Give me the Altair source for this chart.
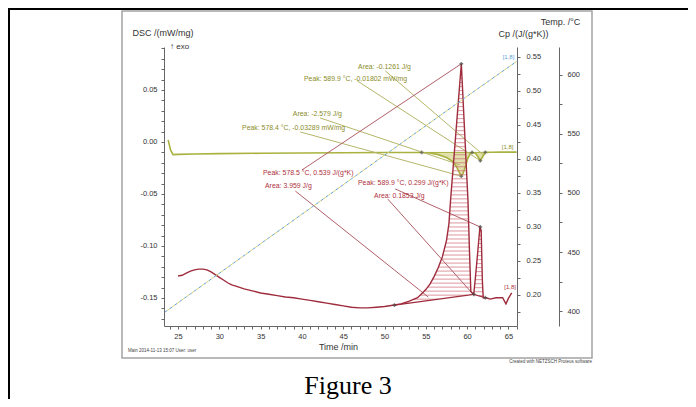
import altair as alt
import numpy as np
import pandas as pd

# ---------------- values ----------------
# DSC curve (mW/mg) vs time (min)
dsc_time = [23.8, 24.1, 24.4, 25.0, 27.0, 30.0, 35.0, 40.0, 45.0, 50.0, 54.5, 55.5, 56.5,
            57.5, 58.2, 58.7, 59.0, 59.3, 59.5, 59.8, 60.1, 60.4, 60.6, 61.0, 61.3, 61.6,
            61.9, 62.2, 63.0, 64.0, 65.0, 66.0]
dsc_value = [0.002, -0.008, -0.0122, -0.0120, -0.0116, -0.0112, -0.0109, -0.0106, -0.0104,
             -0.0102, -0.0101, -0.0107, -0.0122, -0.0150, -0.0185, -0.0235, -0.0285, -0.0329,
             -0.0305, -0.0235, -0.0155, -0.0112, -0.0101, -0.0108, -0.0140, -0.0180, -0.0140,
             -0.0100, -0.0099, -0.0098, -0.0098, -0.0098]

# Cp curve (J/(g*K)) vs time (min)
cp_time = [25.0, 25.5, 26.0, 26.5, 27.0, 27.5, 28.0, 28.5, 29.0, 29.5, 30.0, 30.5, 31.0, 31.5,
           32.0, 33.0, 34.0, 35.0, 36.0, 37.0, 38.0, 39.0, 40.0, 41.0, 42.0, 43.0, 44.0, 45.0,
           46.0, 47.0, 48.0, 49.0, 50.0, 51.0, 52.0, 53.0, 54.0, 54.5, 55.0, 55.5, 56.0, 56.5,
           57.0, 57.5, 57.8, 58.0, 58.65, 59.3, 59.7, 60.1, 60.3, 60.45,
           60.8, 61.0, 61.3, 61.55, 61.7, 61.85, 61.95, 62.3, 62.8, 63.5, 64.3, 64.7, 65.0, 65.4]
cp_value = [0.228, 0.229, 0.232, 0.235, 0.237, 0.238, 0.238, 0.237, 0.234, 0.230, 0.226, 0.222,
            0.218, 0.215, 0.213, 0.209, 0.206, 0.203, 0.201, 0.199, 0.197, 0.196, 0.194, 0.192,
            0.190, 0.188, 0.186, 0.184, 0.182, 0.181, 0.181, 0.182, 0.183, 0.185, 0.187, 0.191,
            0.196, 0.202, 0.208, 0.216, 0.227, 0.240, 0.256, 0.280, 0.305, 0.340, 0.440, 0.540,
            0.440, 0.340, 0.260, 0.205, 0.201, 0.225, 0.265, 0.300,
            0.295, 0.220, 0.196, 0.196, 0.194, 0.196, 0.196, 0.187, 0.195, 0.203]

# Temperature program (deg C) vs time (min)
temp_time = [23.4, 30.0, 40.0, 50.0, 60.0, 66.1]
temp_value = [399, 432, 482, 532, 582, 612]

# DSC annotations (olive)
olive_labels = ["Area: -0.1261 J/g", "Peak: 589.9 °C, -0.01802 mW/mg",
                "Area: -2.579 J/g", "Peak: 578.4 °C, -0.03289 mW/mg"]
olive_label_t = [46.8, 40.25, 38.9, 32.75]
olive_label_v = [0.0721, 0.0606, 0.0269, 0.0135]
olive_lead_t1 = [50.1, 46.7, 42.2, 39.8]
olive_lead_v1 = [0.0683, 0.0587, 0.0231, 0.0096]
olive_lead_t2 = [61.9, 61.6, 59.1, 59.3]
olive_lead_v2 = [-0.0120, -0.018, -0.022, -0.0329]
dsc_mark_t = [54.5, 59.3, 60.6, 61.6, 62.2]
dsc_mark_v = [-0.0101, -0.0329, -0.0101, -0.018, -0.0100]
dsc_base_t = [[54.5, 60.6], [60.6, 62.2]]
dsc_base_v = [[-0.0101, -0.0101], [-0.0101, -0.0100]]

# Cp annotations (red)
red_labels = ["Peak: 578.5 °C, 0.539 J/(g*K)", "Area: 3.959 J/g",
              "Peak: 589.9 °C, 0.299 J/(g*K)", "Area: 0.1853 J/g"]
red_label_t = [35.29, 35.53, 46.79, 48.73]
red_label_v = [0.3794, 0.3603, 0.3647, 0.3456]
red_lead_t1 = [40.0, 39.2, 51.3, 50.4]
red_lead_v1 = [0.3838, 0.3529, 0.3559, 0.341]
red_lead_t2 = [59.3, 55.3, 61.6, 60.7]
red_lead_v2 = [0.540, 0.197, 0.300, 0.2015]
cp_mark_t = [51.2, 59.3, 60.8, 61.6, 62.2]
cp_mark_v = [0.185, 0.540, 0.201, 0.300, 0.196]
cp_base_t = [[51.2, 60.8], [60.8, 62.2]]
cp_base_v = [[0.185, 0.201], [0.201, 0.196]]

seg_tag = "[1,8]"
tag_t = [64.3, 64.2, 64.5]       # temp, dsc, cp
tag_v = [615.0, -0.0048, 0.2118]

# ---------------- styling ----------------
FONT = "Liberation Sans"
ANN = 6.9
OLIVE_LINE = "#a9b23e"
OLIVE_TEXT = "#8a8c28"
OLIVE_LEAD = "#b5b66a"
RED_LINE = "#9f2c3c"
RED_TEXT = "#ae2f3d"
RED_LEAD = "#b0606a"
HATCH = "#cf6a74"
BLUE = "#5d9fd6"
AX = "#666666"
TXT = "#333333"

X = alt.X("t:Q", scale=alt.Scale(domain=[23.3, 66.04], nice=False, zero=False),
          axis=alt.Axis(values=list(range(24, 67)),
                        labelExpr="datum.value % 5 == 0 ? datum.value : ''",
                        labelOverlap=False, labelFlush=False, tickSize=3, labelPadding=3,
                        title="Time /min", titleX=174, titleY=20, titleAlign="center",
                        titleBaseline="middle", titleAngle=0))
X2 = alt.X2("t2")
Y2 = alt.Y2("v2")

dsc_vals = [round(-0.17 + 0.01 * i, 2) for i in range(27)]
Y_dsc = alt.Y("v:Q", scale=alt.Scale(domain=[-0.177, 0.0913], nice=False, zero=False),
              axis=alt.Axis(orient="left", values=dsc_vals,
                            labelExpr="abs(round(datum.value*100)) % 5 == 0 ? replace(format(datum.value, '.2f'), '\u2212', '-') : ''",
                            labelOverlap=False, labelFlush=False, tickSize=3, labelPadding=4,
                            title="DSC /(mW/mg)", titleAngle=0, titleAlign="left",
                            titleBaseline="middle", titleX=-32, titleY=-15))

cp_vals = [round(0.175 + 0.025 * i, 3) for i in range(16)]
Y_cp = alt.Y("v:Q", scale=alt.Scale(domain=[0.1544, 0.5647], nice=False, zero=False),
             axis=alt.Axis(orient="right", values=cp_vals,
                           labelExpr="round(datum.value*1000) % 50 == 0 ? format(datum.value, '.2f') : ''",
                           labelOverlap=False, labelFlush=False, tickSize=3, labelPadding=6,
                           title="Cp /(J/(g*K))", titleAngle=0, titleAlign="center",
                           titleBaseline="middle", titleX=6, titleY=-14))

temp_vals = list(range(400, 601, 25))
Y_temp = alt.Y("v:Q", scale=alt.Scale(domain=[387.3, 623.7], nice=False, zero=False),
               axis=alt.Axis(orient="right", offset=42, values=temp_vals,
                             labelExpr="datum.value % 50 == 0 ? datum.value : ''",
                             labelOverlap=False, labelFlush=False, tickSize=3, labelPadding=5,
                             title="Temp. /°C", titleAngle=0, titleAlign="center",
                             titleBaseline="middle", titleX=1, titleY=-26))


def hatch_rows(ts, vs, t0, b0, t1, b1, step):
    grid = np.linspace(t0, t1, 3000)
    curve = np.interp(grid, ts, vs)
    base = b0 + (grid - t0) * (b1 - b0) / (t1 - t0)
    rows = []
    c = min(b0, b1) + step * 0.5
    while c < curve.max():
        mask = (curve >= c) & (base <= c)
        if mask.any():
            idx = np.where(mask)[0]
            splits = np.where(np.diff(idx) > 1)[0]
            starts = np.concatenate([[idx[0]], idx[splits + 1]])
            ends = np.concatenate([idx[splits], [idx[-1]]])
            for s, e in zip(starts, ends):
                rows.append({"t": grid[s], "t2": grid[e], "v": c})
        c += step
    return rows


one = pd.DataFrame({"a": [0]})


def deco_text(txt, x, y, **kw):
    return alt.Chart(one).mark_text(text=txt, **kw).encode(x=alt.value(x), y=alt.value(y))


# ---------------- DSC group ----------------
dsc_df = pd.DataFrame({"t": dsc_time, "v": dsc_value})
fill_rows = []
for k, (tb, vb) in enumerate(zip(dsc_base_t, dsc_base_v)):
    for t, v in zip(dsc_time, dsc_value):
        if tb[0] <= t <= tb[1]:
            b = vb[0] + (t - tb[0]) * (vb[1] - vb[0]) / (tb[1] - tb[0])
            fill_rows.append({"t": t, "v": v, "v2": b, "seg": k})
fill_df = pd.DataFrame(fill_rows)
olive_lbl_df = pd.DataFrame({"t": olive_label_t, "v": olive_label_v, "label": olive_labels})
olive_lead_df = pd.DataFrame({"t": olive_lead_t1, "v": olive_lead_v1,
                              "t2": olive_lead_t2, "v2": olive_lead_v2})
dsc_mark_df = pd.DataFrame({"t": dsc_mark_t, "v": dsc_mark_v})
dsc_base_df = pd.DataFrame({"t": [a[0] for a in dsc_base_t], "t2": [a[1] for a in dsc_base_t],
                            "v": [a[0] for a in dsc_base_v], "v2": [a[1] for a in dsc_base_v]})
dsc_tag_df = pd.DataFrame({"t": [tag_t[1]], "v": [tag_v[1]], "label": [seg_tag]})

frame = alt.Chart(one).mark_rect(fillOpacity=0, stroke="#a3a3a3", strokeWidth=1.5).encode(
    x=alt.value(-42), x2=alt.value(428), y=alt.value(-36), y2=alt.value(311))
top_line = alt.Chart(one).mark_rule(color="black", strokeWidth=2).encode(
    x=alt.value(-156), x2=alt.value(524), y=alt.value(-38))
left_line = alt.Chart(one).mark_rule(color="black", strokeWidth=2).encode(
    x=alt.value(-155), y=alt.value(-39), y2=alt.value(352))

dsc_group = alt.layer(
    frame, top_line, left_line,
    alt.Chart(fill_df).mark_area(color="#c9c76a", opacity=0.55).encode(
        x=X, y=Y_dsc, y2=Y2, detail="seg:N"),
    alt.Chart(dsc_base_df).mark_rule(color=OLIVE_LINE, strokeWidth=1).encode(x=X, x2=X2, y=Y_dsc, y2=Y2),
    alt.Chart(dsc_df).mark_line(color=OLIVE_LINE, strokeWidth=1.6).encode(x=X, y=Y_dsc),
    alt.Chart(olive_lead_df).mark_rule(color=OLIVE_LEAD, strokeWidth=1).encode(x=X, x2=X2, y=Y_dsc, y2=Y2),
    alt.Chart(dsc_mark_df).mark_point(shape="cross", size=14, color="#555", filled=True).encode(x=X, y=Y_dsc),
    alt.Chart(olive_lbl_df).mark_text(align="left", baseline="middle", fontSize=ANN, font=FONT,
                                      color=OLIVE_TEXT).encode(x=X, y=Y_dsc, text="label:N"),
    alt.Chart(dsc_tag_df).mark_text(align="left", baseline="middle", fontSize=6, font=FONT,
                                    color=OLIVE_TEXT).encode(x=X, y=Y_dsc, text="label:N"),
    deco_text("↑ exo", 6, 0, align="left", baseline="middle", fontSize=8, font=FONT, color=TXT),
    deco_text("Main  2014-11-13 15:07   User: user", -36, 304, align="left", baseline="middle",
              fontSize=4.5, font=FONT, color="#444"),
    deco_text("Created with NETZSCH Proteus software", 428, 315, align="right", baseline="middle",
              fontSize=4.5, font=FONT, color="#444"),
    deco_text("Figure 3", 184, 347, align="center", baseline="alphabetic", fontSize=26,
              font="Liberation Serif", color="black"),
)

# ---------------- Cp group ----------------
cp_df = pd.DataFrame({"t": cp_time, "v": cp_value})
hrows = []
for tb, vb in zip(cp_base_t, cp_base_v):
    hrows += hatch_rows(cp_time, cp_value, tb[0], vb[0], tb[1], vb[1], 0.0059)
hatch_df = pd.DataFrame(hrows)
red_lbl_df = pd.DataFrame({"t": red_label_t, "v": red_label_v, "label": red_labels})
red_lead_df = pd.DataFrame({"t": red_lead_t1, "v": red_lead_v1, "t2": red_lead_t2, "v2": red_lead_v2})
cp_mark_df = pd.DataFrame({"t": cp_mark_t, "v": cp_mark_v})
cp_base_df = pd.DataFrame({"t": [a[0] for a in cp_base_t], "t2": [a[1] for a in cp_base_t],
                           "v": [a[0] for a in cp_base_v], "v2": [a[1] for a in cp_base_v]})
cp_tag_df = pd.DataFrame({"t": [tag_t[2]], "v": [tag_v[2]], "label": [seg_tag]})

cp_group = alt.layer(
    alt.Chart(hatch_df).mark_rule(color=HATCH, strokeWidth=0.7).encode(x=X, x2=X2, y=Y_cp),
    alt.Chart(cp_base_df).mark_rule(color=RED_LINE, strokeWidth=1.2).encode(x=X, x2=X2, y=Y_cp, y2=Y2),
    alt.Chart(red_lead_df).mark_rule(color=RED_LEAD, strokeWidth=1).encode(x=X, x2=X2, y=Y_cp, y2=Y2),
    alt.Chart(cp_df).mark_line(color=RED_LINE, strokeWidth=1.4).encode(x=X, y=Y_cp),
    alt.Chart(cp_mark_df).mark_point(shape="cross", size=14, color="#444", filled=True).encode(x=X, y=Y_cp),
    alt.Chart(red_lbl_df).mark_text(align="left", baseline="middle", fontSize=ANN, font=FONT,
                                    color=RED_TEXT).encode(x=X, y=Y_cp, text="label:N"),
    alt.Chart(cp_tag_df).mark_text(align="left", baseline="middle", fontSize=6, font=FONT,
                                   color=RED_TEXT).encode(x=X, y=Y_cp, text="label:N"),
)

# ---------------- Temperature group ----------------
temp_df = pd.DataFrame({"t": temp_time, "v": temp_value})
temp_tag_df = pd.DataFrame({"t": [tag_t[0]], "v": [tag_v[0]], "label": [seg_tag]})
temp_group = alt.layer(
    alt.Chart(temp_df).mark_line(color=BLUE, strokeWidth=1, strokeDash=[3, 3]).encode(x=X, y=Y_temp),
    alt.Chart(temp_df).mark_line(color="#d9d36e", strokeWidth=1, strokeDash=[3, 3],
                                 strokeDashOffset=3).encode(x=X, y=Y_temp),
    alt.Chart(temp_tag_df).mark_text(align="left", baseline="middle", fontSize=6, font=FONT,
                                     color=BLUE).encode(x=X, y=Y_temp, text="label:N"),
)

chart = alt.layer(dsc_group, cp_group, temp_group).resolve_scale(y="independent").properties(
    width=353, height=279,
    autosize=alt.AutoSizeParams(type="none"),
    padding={"left": 156, "top": 39, "right": 171, "bottom": 73},
).configure_view(strokeWidth=0).configure_axis(
    grid=False, labelFont=FONT, labelFontSize=7.5, labelColor=TXT, domainColor=AX,
    tickColor=AX, domainWidth=1, tickWidth=1, titleFont=FONT, titleFontSize=9,
    titleFontWeight="normal", titleColor=TXT,
)

chart.save("out.html", embed_options={"renderer": "svg", "actions": False})
